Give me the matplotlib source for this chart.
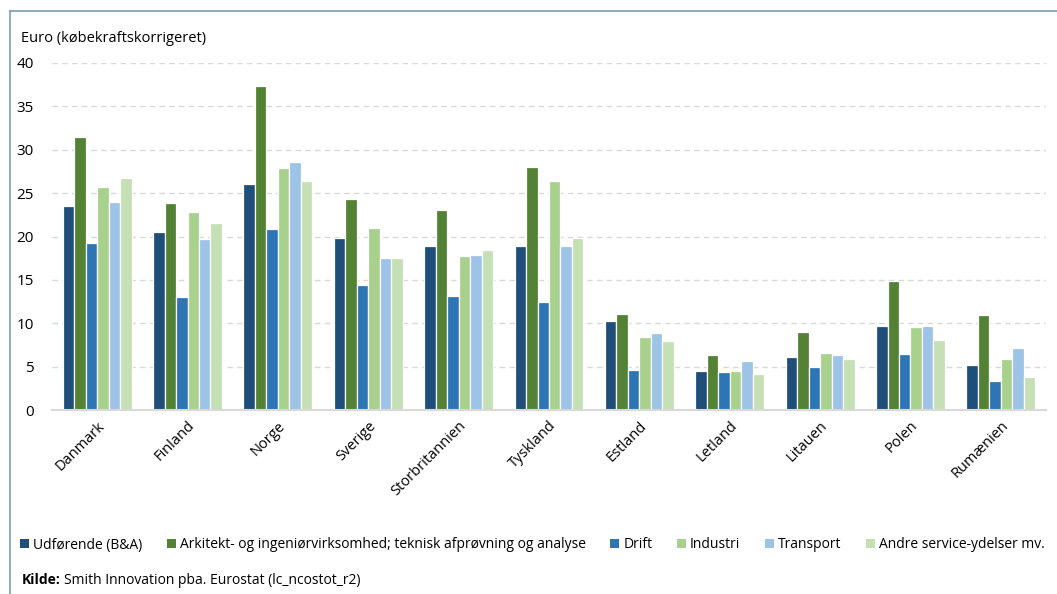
import matplotlib
matplotlib.use("Agg")
import matplotlib.pyplot as plt
import numpy as np
from matplotlib.lines import Line2D
from matplotlib.patches import Patch

plt.rcParams['font.family'] = ['Open Sans', 'DejaVu Sans']

countries = ["Danmark", "Finland", "Norge", "Sverige", "Storbritannien", "Tyskland",
             "Estland", "Letland", "Litauen", "Polen", "Rumænien"]

series_names = ["Udførende (B&A)",
                "Arkitekt- og ingeniørvirksomhed; teknisk afprøvning og analyse",
                "Drift", "Industri", "Transport", "Andre service-ydelser mv."]

udforende = [23.5, 20.5, 26.0, 19.8, 18.9, 18.9, 10.3, 4.5, 6.1, 9.7, 5.2]
arkitekt = [31.5, 23.9, 37.3, 24.3, 23.1, 28.0, 11.1, 6.3, 9.0, 14.9, 10.9]
drift = [19.3, 13.0, 20.9, 14.4, 13.1, 12.5, 4.6, 4.4, 4.9, 6.5, 3.4]
industri = [25.7, 22.8, 27.9, 21.0, 17.7, 26.4, 8.4, 4.5, 6.6, 9.6, 5.9]
transport = [24.0, 19.7, 28.6, 17.5, 17.9, 18.9, 8.9, 5.7, 6.3, 9.7, 7.1]
andre = [26.7, 21.5, 26.4, 17.5, 18.4, 19.8, 8.0, 4.1, 5.9, 8.1, 3.8]

yticks = [0, 5, 10, 15, 20, 25, 30, 35, 40]

colors = ["#1f4e79", "#548235", "#2e75b6", "#a9d18e", "#9dc3e6", "#c5e0b4"]
series = [udforende, arkitekt, drift, industri, transport, andre]

W, H = 1057, 594
fig = plt.figure(figsize=(W / 100, H / 100), dpi=100)
ax = fig.add_axes([52 / W, 1 - 410 / H, (1046 - 52) / W, (410 - 63) / H])

x = np.arange(len(countries))
step = 0.127
for i, (vals, col) in enumerate(zip(series, colors)):
    offs = (i - 2.5) * step
    ax.bar(x + offs, vals, width=step, color=col, edgecolor="white",
           linewidth=0.9, zorder=3)

ax.set_xlim(-0.5, len(countries) - 0.5)
ax.set_ylim(0, 40)
ax.set_yticks(yticks)
ax.set_yticklabels([str(t) for t in yticks], fontsize=11)
ax.tick_params(axis="y", length=0, pad=13)
ax.tick_params(axis="x", length=0, pad=6)
ax.set_xticks(x)
ax.set_xticklabels(countries, fontsize=10.5, rotation=45, ha="right", va="top",
                   rotation_mode="anchor")

for t in yticks[1:]:
    ax.axhline(t, color="#d9d9d9", linewidth=1.0, linestyle=(0, (4, 3)), zorder=1)

for s in ["top", "right", "left"]:
    ax.spines[s].set_visible(False)
ax.spines["bottom"].set_color("#d9d9d9")
ax.spines["bottom"].set_linewidth(1.5)
ax.spines["bottom"].set_zorder(4)

fig.text(21 / W, 1 - 39 / H, "Euro (købekraftskorrigeret)", fontsize=10.5,
         ha="left", va="center")

handles = [Patch(facecolor=c, edgecolor="none") for c in colors]
fig.legend(handles, series_names, loc="center left", bbox_to_anchor=(20 / W, 1 - 545 / H),
           ncol=6, frameon=False, fontsize=10, handlelength=0.65, handleheight=0.65,
           handletextpad=0.3, columnspacing=1.75, borderaxespad=0, borderpad=0)

# source line: bold prefix followed by plain text
kilde = fig.text(22 / W, 1 - 580 / H, "Kilde:", fontsize=10, fontweight="bold",
                 ha="left", va="center")
renderer = fig.canvas.get_renderer()
bb = kilde.get_window_extent(renderer=renderer)
fig.text((bb.x1 + 3) / W, 1 - 580 / H, "Smith Innovation pba. Eurostat (lc_ncostot_r2)",
         fontsize=10, ha="left", va="center")

frame_col = "#8aa2bd"
fig.add_artist(Line2D([10 / W, 10 / W], [0, 1 - 11 / H], color=frame_col,
                      linewidth=1.3, transform=fig.transFigure))
fig.add_artist(Line2D([10 / W, 1], [1 - 11 / H, 1 - 11 / H], color=frame_col,
                      linewidth=1.3, transform=fig.transFigure))

fig.savefig("out.png", dpi=100)
